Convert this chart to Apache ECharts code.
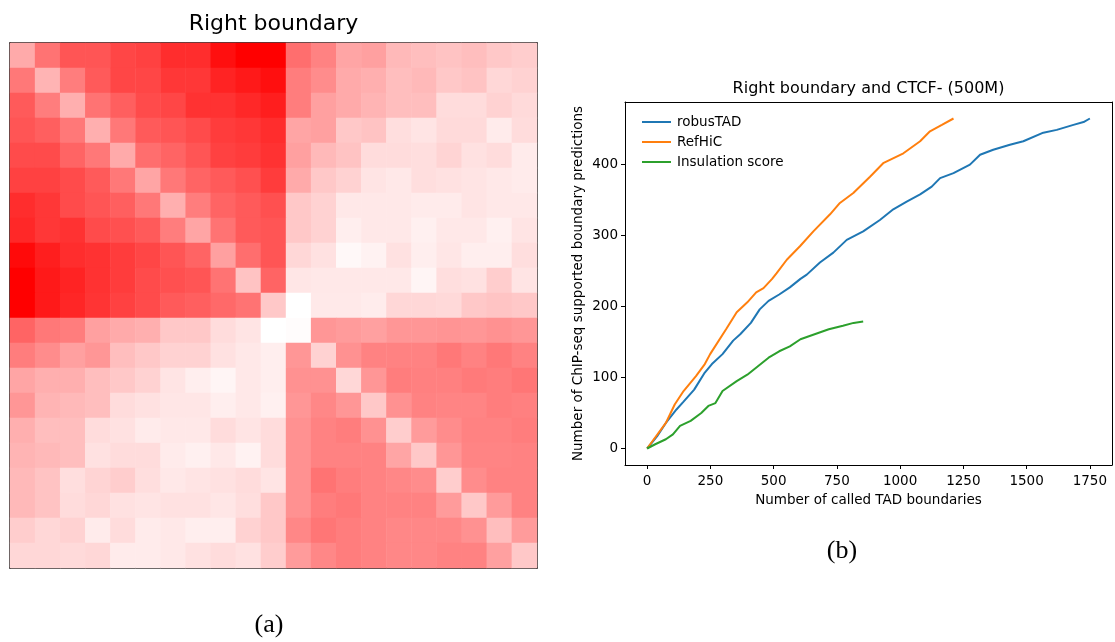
<!DOCTYPE html>
<html><head><meta charset="utf-8">
<script src="https://cdn.jsdelivr.net/npm/echarts@6/dist/echarts.min.js"></script>
<style>html,body{margin:0;padding:0;background:#fff}#c{width:1115px;height:642px}</style>
</head><body><div id="c"></div>
<script>
// Heatmap: whiteness level of each cell (0 = pure red, 255 = white), rows top->bottom, cols left->right
const heatRows = [
 [170,115,85,85,70,65,45,45,15,0,0,110,130,165,160,185,190,195,190,200,205],
 [120,180,125,90,70,70,55,55,35,25,15,125,140,170,175,190,185,200,195,215,210],
 [90,125,175,115,95,75,70,50,50,40,30,125,160,170,180,190,190,220,220,210,218],
 [85,95,120,175,120,90,85,75,60,55,45,165,160,200,195,222,228,218,218,235,220],
 [75,75,100,120,170,110,100,85,65,60,50,160,185,195,220,220,222,212,225,220,235],
 [65,65,75,90,120,165,120,100,90,80,60,170,200,210,228,232,222,225,228,232,235],
 [45,55,75,85,95,120,175,125,100,90,80,200,210,232,232,232,235,235,228,232,232],
 [40,55,50,75,80,90,125,165,115,90,85,200,210,238,232,232,240,232,232,240,228],
 [10,30,45,50,60,70,85,100,160,110,85,215,225,248,242,225,238,230,238,238,222],
 [0,25,35,50,60,75,80,85,115,195,100,230,232,232,232,232,245,222,225,205,228],
 [0,25,38,52,65,75,90,95,105,115,200,255,233,233,236,215,215,217,200,196,200],
 [100,120,125,160,170,175,200,200,220,228,255,252,150,155,160,150,150,148,150,145,150],
 [125,140,160,150,190,200,210,210,225,232,238,150,210,145,130,130,130,120,130,120,130],
 [165,175,175,190,200,210,228,238,245,232,238,145,145,215,150,125,128,128,122,125,118],
 [150,180,185,190,220,225,230,230,238,232,240,150,135,150,200,145,130,132,132,125,128],
 [175,190,190,220,225,235,232,232,220,228,220,145,130,125,145,205,155,140,130,130,125],
 [180,185,190,225,220,220,235,240,232,242,220,145,130,130,130,165,200,150,132,132,130],
 [185,195,222,212,205,222,232,228,225,220,228,145,115,125,130,135,140,205,140,130,130],
 [185,195,220,215,225,228,225,225,230,222,200,145,125,120,130,130,130,155,200,155,130],
 [205,215,210,235,220,235,232,238,238,210,200,135,118,125,130,135,135,135,145,190,155],
 [215,215,218,215,235,235,232,225,220,225,205,155,135,125,130,135,135,130,130,160,200]
];

const seriesNames = ['robusTAD', 'RefHiC', 'Insulation score'];
const robusX = [0,39,74,116,144,186,228,256,298,340,368,410,445,480,522,564,606,631,683,736,789,854,920,973,1026,1079,1125,1158,1211,1276,1316,1368,1434,1487,1566,1619,1685,1725,1750];
const robusY = [0,17,36,55,66,83,107,119,133,152,161,177,196,208,217,227,239,245,262,276,294,306,322,337,348,358,369,381,388,400,414,421,428,433,445,449,456,460,465];
const refX = [0,74,109,144,193,228,249,312,354,396,431,460,494,512,552,604,657,723,762,815,881,933,1013,1079,1118,1165,1211];
const refY = [0,36,62,81,102,119,133,168,192,206,220,226,239,247,266,285,306,330,346,360,383,402,416,433,447,456,465];
const insX = [0,32,74,102,130,172,214,242,270,298,354,396,438,480,522,564,606,662,718,774,816,854];
const insY = [0,6,13,20,32,39,50,60,64,81,95,104,116,128,137,144,154,161,168,173,177,179];
const xTicks = [0,250,500,750,1000,1250,1500,1750];
const yTicks = [0,100,200,300,400];

const chart = echarts.init(document.getElementById('c'), null, {renderer:'canvas'});
const cats = heatRows[0].map((_, i) => String(i));
const rowCats = heatRows.map((_, i) => String(i));
const heatData = [];
heatRows.forEach((row, r) => row.forEach((v, c) => heatData.push([c, r, v])));
const zip = (xs, ys) => xs.map((x, i) => [x, ys[i]]);
const F = 'DejaVu Sans';
const FS = 13.5;
const frameLine = {show:true, lineStyle:{color:'#000', width:1.5}};
const hidden = {axisTick:{show:false}, axisLabel:{show:false}, splitLine:{show:false}, axisLine:frameLine};
const boxLine = {show:true, onZero:false, lineStyle:{color:'#000', width:1}};
const boxOnly = {axisTick:{show:false}, axisLabel:{show:false}, splitLine:{show:false}, axisLine:boxLine};
const XMIN = -87.5, XMAX = 1837.5, YMIN = -23.25, YMAX = 488.25;

const option = {
  animation:false,
  backgroundColor:'#fff',
  grid:[
    {left:10, top:43, width:527, height:525},
    {left:625, top:102, width:487, height:363}
  ],
  visualMap:{show:false, type:'continuous', min:0, max:255, dimension:2, seriesIndex:0,
    inRange:{color:['#ff0000','#ffffff']}},
  xAxis:[
    Object.assign({gridIndex:0, type:'category', data:cats, position:'bottom'}, hidden),
    Object.assign({gridIndex:0, type:'category', data:cats, position:'top'}, hidden),
    {gridIndex:1, type:'value', min:XMIN, max:XMAX, position:'bottom',
      axisLine:boxLine,
      axisTick:{customValues:xTicks, length:4, lineStyle:{color:'#000'}},
      axisLabel:{customValues:xTicks, color:'#000', fontFamily:F, fontSize:FS, margin:9,
        formatter:v => String(v)},
      splitLine:{show:false},
      name:'Number of called TAD boundaries', nameLocation:'middle', nameGap:28,
      nameTextStyle:{color:'#000', fontFamily:F, fontSize:FS}},
    Object.assign({gridIndex:1, type:'value', min:XMIN, max:XMAX, position:'top'}, boxOnly)
  ],
  yAxis:[
    Object.assign({gridIndex:0, type:'category', data:rowCats, inverse:true, position:'left'}, hidden),
    Object.assign({gridIndex:0, type:'category', data:rowCats, inverse:true, position:'right'}, hidden),
    {gridIndex:1, type:'value', min:YMIN, max:YMAX, position:'left',
      axisLine:boxLine,
      axisTick:{show:true, customValues:yTicks, length:4, lineStyle:{color:'#000'}},
      axisLabel:{customValues:yTicks, color:'#000', fontFamily:F, fontSize:FS, margin:7,
        formatter:v => String(v)},
      splitLine:{show:false},
      name:'Number of ChIP-seq supported boundary predictions', nameLocation:'middle', nameGap:40,
      nameTextStyle:{color:'#000', fontFamily:F, fontSize:FS}},
    Object.assign({gridIndex:1, type:'value', min:YMIN, max:YMAX, position:'right'}, boxOnly)
  ],
  legend:{
    orient:'vertical', left:637, top:110, itemWidth:29, itemHeight:2, icon:'rect', itemGap:6,
    data:seriesNames,
    textStyle:{color:'#000', fontFamily:F, fontSize:FS, lineHeight:14, padding:[0,0,0,1]}
  },
  series:[
    {type:'heatmap', xAxisIndex:0, yAxisIndex:0, data:heatData, emphasis:{disabled:true},
      itemStyle:{borderWidth:0}},
    {name:seriesNames[0], type:'line', xAxisIndex:2, yAxisIndex:2, data:zip(robusX, robusY),
      showSymbol:false, color:'#1f77b4', lineStyle:{width:2, color:'#1f77b4'}},
    {name:seriesNames[1], type:'line', xAxisIndex:2, yAxisIndex:2, data:zip(refX, refY),
      showSymbol:false, color:'#ff7f0e', lineStyle:{width:2, color:'#ff7f0e'}},
    {name:seriesNames[2], type:'line', xAxisIndex:2, yAxisIndex:2, data:zip(insX, insY),
      showSymbol:false, color:'#2ca02c', lineStyle:{width:2, color:'#2ca02c'}}
  ],
  graphic:[
    {type:'text', style:{text:'Right boundary', x:273.5, y:24, align:'center', verticalAlign:'middle',
      font:'22px "DejaVu Sans"', fill:'#000'}},
    {type:'text', style:{text:'Right boundary and CTCF- (500M)', x:868.5, y:89, align:'center', verticalAlign:'middle',
      font:'16px "DejaVu Sans"', fill:'#000'}},
    {type:'text', style:{text:'(a)', x:269, y:625, align:'center', verticalAlign:'middle',
      font:'26px "Liberation Serif"', fill:'#000'}},
    {type:'text', style:{text:'(b)', x:842, y:551, align:'center', verticalAlign:'middle',
      font:'26px "Liberation Serif"', fill:'#000'}}
  ]
};
chart.setOption(option);
</script>
</body></html>
